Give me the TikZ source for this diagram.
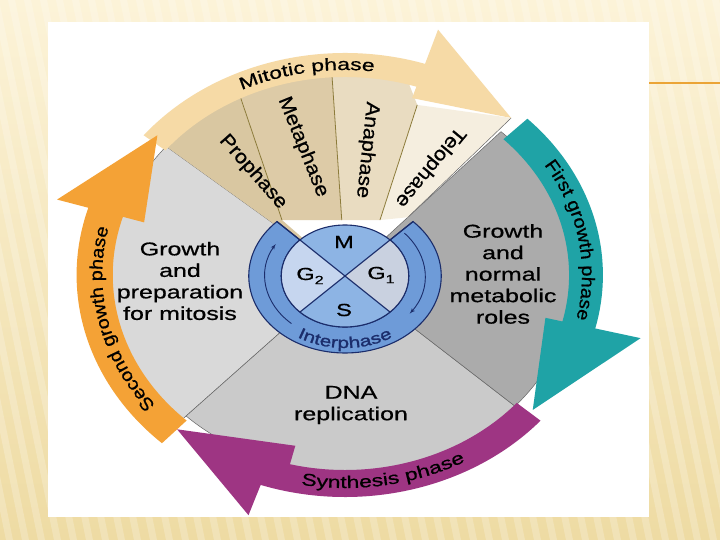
\documentclass[tikz,border=0pt]{standalone}
\usepackage{fontspec}
\setmainfont{Liberation Sans}
\newfontfamily\widesans[FakeStretch=1.35, FakeBold=0.7]{Liberation Sans}
\newfontfamily\slimsans[FakeStretch=1.1, FakeBold=0.7]{Liberation Sans}
\newfontfamily\heavysans[FakeStretch=1.35, FakeBold=1.4]{Liberation Sans}
\usepackage{tikz}
\usetikzlibrary{arrows,decorations.text}

\definecolor{bgtop}{HTML}{FCF3D8}
\definecolor{bgbot}{HTML}{EEDBA3}
\definecolor{slideline}{HTML}{EBA436}
\definecolor{mitband}{HTML}{F6DAA6}
\definecolor{protan}{HTML}{D9C7A1}
\definecolor{metatan}{HTML}{DDCBA7}
\definecolor{anatan}{HTML}{E9DCC1}
\definecolor{telotan}{HTML}{F5EEDF}
\definecolor{gtwogray}{HTML}{D9D9D9}
\definecolor{gonegray}{HTML}{ABABAB}
\definecolor{sgray}{HTML}{CACACA}
\definecolor{divline}{HTML}{8C7B3A}
\definecolor{groworange}{HTML}{F4A236}
\definecolor{growteal}{HTML}{1FA3A6}
\definecolor{synpurple}{HTML}{9E3583}
\definecolor{ringblue}{HTML}{6E9BD8}
\definecolor{quadblue}{HTML}{8DB4E4}
\definecolor{quadlight}{HTML}{C6D6EF}
\definecolor{quadgray}{HTML}{C9D1E0}
\definecolor{navy}{HTML}{1B2D6B}

\newcommand\sectfont{\widesans\fontsize{18.5}{21.5}\selectfont}
\newcommand\phasefont{\slimsans\fontsize{19.5}{22}\selectfont}
\newcommand\bandfont{\widesans\fontsize{17}{20}\selectfont}
\newcommand\sidefont{\slimsans\fontsize{18}{20}\selectfont}
\newcommand\interfont{\heavysans\fontsize{15.5}{18}\selectfont}
\newcommand\phsub[1]{\raisebox{-0.45ex}{\widesans\fontsize{12}{12}\selectfont #1}}

\tikzstyle{sector} = [draw=black!60, line width=0.5pt]
\tikzstyle{divider} = [draw=divline, line width=0.8pt]
\tikzstyle{cellline} = [draw=navy, line width=1.1pt]
\tikzstyle{sectortext} = [align=center, font=\sectfont]
\tikzstyle{phasetext} = [font=\phasefont]
\tikzstyle{quadtext} = [font=\widesans\fontsize{17.5}{20}\selectfont]
\tikzstyle{bandtext} = [decorate, decoration={text along path, text align=center}]

\begin{document}
\begin{tikzpicture}[x=1pt, y=1pt, >=latex']
    \useasboundingbox (0,0) rectangle (720,-540);

    % slide background and white panel
    \shade[top color=bgtop, bottom color=bgbot] (0,0) rectangle (720,-540);
    \foreach \s in {-120,-104,...,720}
        \fill[white, opacity=0.22] (\s,0) -- ++(7,0) -- ++(110,-540) -- ++(-7,0) -- cycle;
    \draw[slideline, line width=2pt] (649,-83) -- (720,-83);
    \fill[white] (48,-22) rectangle (649,-517);

    \coordinate (wc) at (345,-275);
    \coordinate (ic) at (345,-276);

    % the wheel: sectors first, then the phase arrows
    \begin{scope}[shift={(wc)}, xscale=1.167]
        \filldraw[sector, fill=gtwogray] (0,0) -- (140:200) arc[start angle=140, end angle=226, radius=200] -- cycle;
        \filldraw[sector, fill=sgray] (0,0) -- (226:196) arc[start angle=226, end angle=318, radius=196] -- cycle;
        \filldraw[sector, fill=gonegray] (0,0) -- (318:196) arc[start angle=318, end angle=407, radius=196] -- cycle;

        \fill[protan] (0,0) -- (140:204) arc[start angle=140, end angle=116.6, radius=204] -- (134.5:77) -- cycle;
        \fill[metatan] (134.5:77) -- (116.6:204) arc[start angle=116.6, end angle=93.2, radius=204] -- (92.9:55) -- cycle;
        \fill[anatan] (92.9:55) -- (93.2:204) arc[start angle=93.2, end angle=75, radius=204] -- (70:181) -- (61.4:62.6) -- cycle;
        \draw[divider] (134.5:77) -- (116.6:202);
        \draw[divider] (92.9:55) -- (93.2:202);

        % mitotic phase arrow, its head partly under telophase
        \fill[mitband] (141:198) arc[start angle=141, end angle=72, radius=198] -- (72:186) -- (47.8:212)
            -- (72:258) -- (72:222) arc[start angle=72, end angle=141, radius=222] -- cycle;
        \fill[telotan] (61.4:62.6) -- (70:181) -- (47.8:212) -- (47:79) -- cycle;
        \draw[divider] (61.4:62.6) -- (70:181);
        \draw[sector] (47:79) -- (47.8:212);

        \fill[synpurple] (319:195) arc[start angle=319, end angle=256, radius=195] -- (256:176) -- (227:211)
            -- (251:254) -- (251:222) arc[start angle=251, end angle=319, radius=222] -- cycle;
        \fill[groworange] (227:199) arc[start angle=227, end angle=163, radius=199] -- (163:180) -- (139:213)
            -- (163:258) -- (163:230) arc[start angle=163, end angle=227, radius=230] -- cycle;
        \fill[growteal] (45:192) arc[start angle=45, end angle=-14, radius=192] -- (-14:177) -- (-40:210)
            -- (-14:261) -- (-14:221) arc[start angle=-14, end angle=45, radius=221] -- cycle;
    \end{scope}

    % cell cycle disc
    \begin{scope}[shift={(ic)}, xscale=1.25]
        \filldraw[cellline, fill=ringblue] (45:51) -- (45:77) arc[start angle=45, end angle=-225, radius=77]
            -- (135:51) arc[start angle=135, end angle=405, radius=51] -- cycle;
        \fill[quadblue] (0,0) -- (45:51) arc[start angle=45, end angle=135, radius=51] -- cycle;
        \fill[quadlight] (0,0) -- (135:51) arc[start angle=135, end angle=225, radius=51] -- cycle;
        \fill[quadblue] (0,0) -- (225:51) arc[start angle=225, end angle=315, radius=51] -- cycle;
        \fill[quadgray] (0,0) -- (315:51) arc[start angle=315, end angle=405, radius=51] -- cycle;
        \draw[cellline] (0,0) circle[radius=51];
        \draw[cellline] (135:77) -- (315:51);
        \draw[cellline] (45:77) -- (225:51);
        \draw[cellline, line width=0.9pt, ->] (228:64) arc[start angle=228, end angle=150, radius=64];
        \draw[cellline, line width=0.9pt, ->] (42:64) arc[start angle=42, end angle=-36, radius=64];
    \end{scope}

    % sector labels
    \node[sectortext] (gtwotext) at (180,-281) {Growth\\and\\preparation\\for mitosis};
    \node[sectortext] (gonetext) at (503,-274) {Growth\\and\\normal\\metabolic\\roles};
    \node[sectortext] (stext) at (351,-405) {DNA\\replication};
    \node[phasetext, rotate=-48.6] (prophase) at (253,-172) {Prophase};
    \node[phasetext, rotate=-68] (metaphase) at (303,-147) {Metaphase};
    \node[phasetext, rotate=-96] (anaphase) at (367,-150) {Anaphase};
    \node[phasetext, rotate=-129.6] (telophase) at (430,-167) {Telophase};

    \node[quadtext] (mlabel) at (344,-242) {M};
    \node[quadtext] (gtwolabel) at (310,-276) {G\phsub{2}};
    \node[quadtext] (gonelabel) at (381,-275) {G\phsub{1}};
    \node[quadtext] (slabel) at (344,-310) {S};

    % curved labels on the arrows
    \path[bandtext, decoration={text={|\bandfont|Mitotic phase}}]
        ([shift={(150:239.2 and 205)}]wc) arc[start angle=150, end angle=50, x radius=239.2, y radius=205];
    \path[bandtext, decoration={text={|\sidefont|First growth phase}}]
        ([shift={(40:237 and 203)}]wc) arc[start angle=40, end angle=-20, x radius=237, y radius=203];
    \path[bandtext, decoration={text={|\sidefont|Second growth phase}}]
        ([shift={(228:242.7 and 208)}]wc) arc[start angle=228, end angle=157, x radius=242.7, y radius=208];
    \path[bandtext, decoration={text={|\bandfont|Synthesis phase}}]
        ([shift={(252:248.6 and 213)}]wc) arc[start angle=252, end angle=307, x radius=248.6, y radius=213];
    \path[bandtext, decoration={text={|\interfont|Interphase}, text color=navy}]
        ([shift={(215:90 and 72)}]ic) arc[start angle=215, end angle=325, x radius=90, y radius=72];
\end{tikzpicture}
\end{document}
